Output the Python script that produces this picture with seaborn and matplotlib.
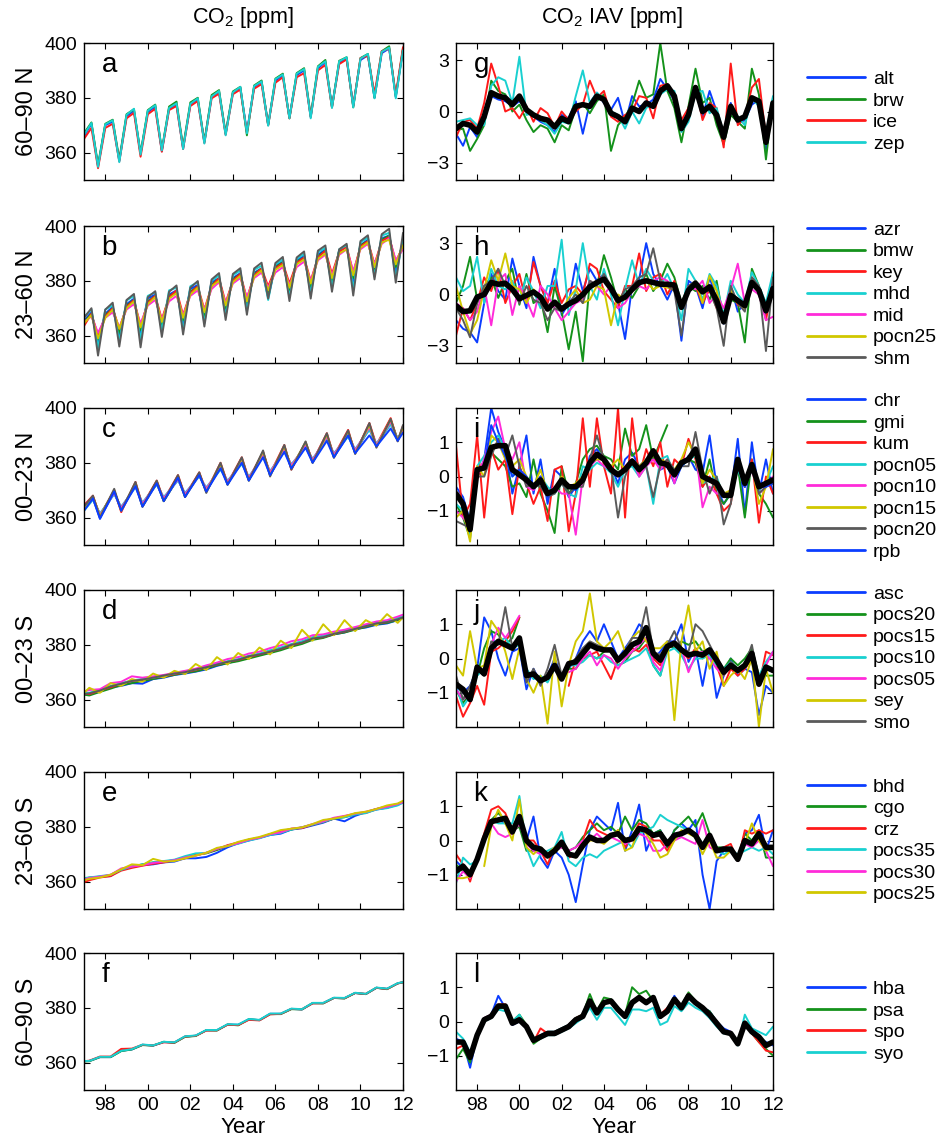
import numpy as np
import pandas as pd
import matplotlib
matplotlib.use('Agg')
import matplotlib.pyplot as plt
from matplotlib.lines import Line2D
import seaborn as sns

# ---------------- time axes ----------------
years = np.arange(1997, 2012)
t_nh = np.append((years[:, None] + np.array([0.0, 0.35, 0.66])).ravel(), 2012.0)   # Jan, max, min (a, b)
t_tr = np.concatenate([[1997.0], (years[:, None] + np.array([0.42, 0.75])).ravel(), [2012.0]])  # c
t_sh = np.concatenate([[1997.0], (years[:, None] + np.array([0.25, 0.75])).ravel(), [2012.0]])  # d, e, f
t_iav = 1997 + np.arange(46) / 3

nan = np.nan

# ---------------- CO2 [ppm] ----------------
# a: 60-90 N
alt_co2 = [366.0, 370.5, 355.0, 370.0, 371.3, 357.0, 373.3, 375.3, 359.5, 374.8, 376.8, 360.5, 376.0, 377.5, 361.5,
           377.5, 379.3, 363.8, 380.3, 382.2, 366.8, 381.8, 383.8, 367.5, 384.0, 385.8, 370.2, 386.3, 388.2, 372.8,
           388.3, 390.0, 373.0, 390.8, 393.0, 376.8, 392.8, 394.3, 377.0, 393.8, 395.5, 380.0, 396.3, 398.0, 380.3, 397.5]
brw_co2 = [367.0, 371.0, 355.5, 370.5, 372.0, 357.5, 374.0, 375.8, 359.8, 375.5, 377.5, 361.0, 376.8, 378.6, 362.0,
           378.3, 380.0, 364.0, 381.0, 382.8, 367.0, 382.3, 384.0, 366.3, 384.5, 386.3, 370.0, 387.0, 388.8, 372.5,
           389.0, 390.8, 373.3, 391.5, 393.8, 376.5, 393.5, 394.8, 376.5, 394.5, 396.0, 380.0, 397.0, 398.8, 380.5, 398.0]
ice_co2 = [365.0, 369.0, 354.3, 369.0, 370.5, 356.8, 372.5, 374.5, 358.5, 374.0, 376.0, 360.3, 375.5, 377.0, 361.3,
           377.0, 378.8, 363.5, 379.8, 381.5, 366.5, 381.3, 383.0, 367.3, 383.3, 385.0, 370.0, 385.5, 387.5, 372.5,
           387.5, 389.0, 373.0, 390.0, 392.0, 376.5, 392.3, 394.0, 377.0, 394.5, 395.3, 381.5, 397.0, 398.0, 381.0, 398.5]
zep_co2 = [366.5, 370.8, 354.8, 370.3, 371.8, 356.5, 373.8, 376.0, 359.3, 375.3, 377.3, 360.8, 376.3, 378.0, 361.3,
           377.8, 379.8, 363.3, 380.5, 382.5, 366.3, 382.0, 384.0, 367.0, 384.3, 386.0, 369.8, 386.8, 388.5, 372.5,
           388.8, 390.5, 372.5, 391.3, 393.3, 376.3, 393.3, 394.8, 376.5, 394.3, 396.0, 379.8, 396.8, 398.3, 379.8, 397.3]

# b: 23-60 N
azr_co2 = [365.5, 368.5, 357.5, 368.0, 370.5, 360.0, 371.5, 373.5, 361.0, 373.5, 375.0, 363.0, 375.0, 376.5, 364.0,
           377.0, 378.5, 366.0, 379.5, 381.0, 369.0, 381.0, 382.8, 370.5, 383.0, 384.5, 374.0, 385.5, 387.0, 375.5,
           387.5, 389.0, 376.5, 389.5, 391.5, 379.0, 391.0, 392.5, 379.5, 393.0, 395.0, 383.0, 395.5, 396.5, 383.0, 394.5]
bmw_co2 = [365.0, 368.0, 358.5, 367.5, 370.0, 361.0, 371.0, 373.0, 362.0, 372.5, 374.5, 364.0, 374.5, 376.0, 365.5,
           376.0, 378.0, 367.0, 378.5, 381.0, 370.0, 380.5, 382.5, 372.0, 382.5, 384.5, 375.5, 385.0, 386.8, 376.5,
           387.0, 388.5, 378.0, 389.0, 391.0, 380.0, 391.0, 392.5, 381.0, 393.0, 394.5, 384.0, 395.0, 396.5, 385.0, 394.0]
key_co2 = [363.5, 368.0, 360.0, 367.0, 370.0, 362.5, 370.5, 373.0, 363.5, 372.0, 374.5, 366.0, 374.0, 376.5, 367.5,
           375.5, 378.0, 369.5, 378.0, 381.0, 372.0, 380.0, 382.5, 373.5, 382.0, 384.5, 378.0, 384.5, 386.5, 379.0,
           386.5, 388.5, 380.0, 388.5, 391.0, 382.5, 390.5, 392.5, 383.0, 392.5, 394.5, 386.0, 394.5, 396.0, 387.0, 392.5]
mhd_co2 = [366.8, 369.5, 355.5, 369.5, 371.0, 358.0, 372.8, 374.5, 358.5, 374.5, 375.8, 361.5, 376.5, 377.5, 362.0,
           378.0, 379.5, 364.5, 380.0, 382.0, 367.0, 382.0, 383.8, 369.0, 384.0, 385.5, 373.0, 386.0, 387.8, 374.0,
           388.0, 389.8, 375.0, 390.5, 392.0, 377.5, 391.5, 393.0, 377.0, 394.0, 395.8, 381.5, 396.5, 397.5, 381.0, 395.5]
mid_co2 = [365.0, 367.0, 361.0, 366.5, 368.5, 363.0, 369.5, 371.5, 364.5, 371.0, 373.0, 366.0, 372.5, 374.5, 367.5,
           374.5, 376.5, 369.5, 377.0, 379.5, 372.0, 379.0, 381.0, 374.0, 381.0, 383.0, 377.5, 383.0, 385.0, 378.5,
           385.0, 387.0, 380.0, 387.5, 389.5, 382.0, 389.5, 391.5, 383.5, 391.5, 393.5, 386.0, 393.5, 395.5, 387.5, 391.5]
pocn25_co2 = [364.5, 367.5, 359.0, 366.5, 369.5, 362.5, 370.0, 372.5, 363.0, 371.5, 374.0, 365.0, 373.5, 375.5, 366.5,
              375.0, 377.5, 368.5, 378.0, 380.0, 371.0, 379.5, 381.8, 372.5, 381.5, 383.8, 376.5, 384.0, 385.8, 377.5,
              386.0, 387.8, 379.0, 388.0, 390.0, 381.0, 390.0, 391.5, 382.0, 392.0, 394.0, 385.0, 394.0, 395.0, 386.0, 393.0]
shm_co2 = [366.5, 370.0, 352.7, 369.5, 372.0, 356.0, 373.0, 375.2, 355.7, 374.0, 376.2, 359.5, 376.0, 378.3, 360.4,
           377.5, 379.9, 363.3, 380.5, 382.8, 365.7, 382.5, 384.6, 367.6, 384.5, 386.6, 373.5, 386.5, 388.7, 372.6,
           388.5, 390.7, 373.5, 391.0, 392.9, 376.0, 391.5, 393.5, 374.6, 394.5, 396.6, 380.5, 397.0, 399.0, 379.3, 397.5]

# c: 00-23 N  (start, max/min per year, end)
chr_co2 = [363.0, 367.0, 359.8, 369.2, 362.8, 372.0, 364.0, 372.5, 366.2, 374.2, 367.8, 375.5, 369.5, 378.5, 372.3,
           380.5, 373.6, 383.0, 375.5, 385.0, 378.0, 386.0, 380.3, 389.0, 382.2, 390.0, 383.8, 392.5, 386.0, 394.5, 388.4, 391.5]
gmi_co2 = [363.5, 367.5, 361.0, 369.5, 363.0, 372.0, 364.5, 373.0, 366.0, 374.5, 368.0, 375.8, 369.8, 379.0, 372.5,
           381.0, 374.0, 383.5, 376.0, 385.5, 378.5, 387.0, 380.5, 390.0, 382.5, 391.0, 384.0, 393.5, 386.0, 395.5, 388.5, 392.5]
kum_co2 = [364.5, 368.0, 360.5, 370.0, 362.0, 373.0, 364.5, 373.5, 366.5, 375.5, 368.0, 376.5, 369.5, 380.0, 372.5,
           382.0, 374.0, 384.0, 376.0, 386.5, 377.5, 387.5, 380.5, 390.8, 382.5, 392.0, 383.5, 394.5, 386.5, 396.3, 388.0, 393.5]
pocn05_co2 = [362.5, 366.5, 361.5, 368.5, 364.0, 371.0, 365.5, 372.0, 367.5, 373.5, 369.0, 375.0, 371.0, 377.5, 373.5,
              379.5, 375.0, 382.0, 377.0, 384.0, 379.5, 385.5, 381.5, 388.5, 383.5, 389.5, 385.0, 392.0, 387.0, 394.0, 389.0, 391.5]
pocn10_co2 = [363.0, 367.0, 361.0, 369.0, 363.5, 371.5, 365.0, 372.5, 367.0, 374.0, 368.5, 375.5, 370.5, 378.5, 373.0,
              380.5, 374.5, 383.0, 376.5, 385.0, 379.0, 386.5, 381.0, 389.5, 383.0, 390.5, 384.5, 393.0, 386.5, 395.0, 388.5, 392.0]
pocn15_co2 = [363.5, 367.5, 360.5, 369.8, 362.5, 372.5, 364.0, 373.0, 366.0, 374.8, 367.5, 376.0, 369.5, 379.5, 372.0,
              381.5, 373.5, 384.0, 375.5, 386.0, 378.0, 387.5, 380.0, 390.3, 382.0, 391.3, 383.5, 393.8, 385.8, 395.8, 388.0, 393.0]
pocn20_co2 = [364.0, 368.0, 360.0, 370.5, 362.5, 373.0, 364.0, 373.5, 366.0, 375.5, 367.5, 376.5, 369.0, 380.0, 372.0,
              382.0, 373.5, 384.5, 375.0, 386.5, 377.5, 387.8, 380.0, 390.8, 381.8, 391.8, 383.2, 394.5, 385.5, 396.0, 387.8, 393.8]
rpb_co2 = [362.5, 367.0, 359.5, 369.5, 362.5, 371.5, 364.0, 372.5, 366.0, 374.5, 367.5, 375.5, 369.5, 378.0, 372.0,
           380.0, 373.5, 382.0, 375.5, 384.0, 378.0, 385.5, 380.0, 388.0, 382.0, 390.0, 383.5, 390.0, 386.0, 392.5, 388.0, 391.0]

# d: 00-23 S
asc_co2 = [362.0, 362.0, 363.0, 364.5, 365.0, 366.0, 365.8, 367.5, 368.0, 369.0, 369.5, 370.2, 371.0, 372.3, 373.3,
           374.3, 375.3, 376.5, 377.3, 378.3, 379.8, 380.8, 382.3, 382.8, 383.8, 384.5, 385.8, 386.3, 387.3, 387.8, 389.0, 390.0]
pocs20_co2 = [361.8, 361.5, 362.8, 364.0, 365.3, 366.0, 366.8, 367.5, 368.3, 369.0, 369.8, 370.3, 371.3, 372.5, 373.3,
              374.0, 375.0, 376.0, 377.0, 378.0, 379.3, 380.3, 381.8, 382.5, 383.8, 384.5, 385.5, 386.5, 387.5, 388.0, 389.0, 389.8]
pocs15_co2 = [362.3, 362.0, 363.3, 364.5, 365.8, 366.8, 367.3, 368.0, 368.5, 369.3, 370.0, 370.8, 371.8, 372.8, 373.8,
              374.5, 375.5, 376.5, 377.5, 378.5, 379.8, 380.8, 382.3, 382.8, 384.0, 384.8, 385.8, 386.8, 387.8, 388.3, 389.5, 390.2]
pocs10_co2 = [362.5, 362.5, 363.5, 365.0, 366.0, 367.0, 367.5, 368.0, 368.8, 369.5, 370.3, 371.0, 372.0, 373.0, 374.0,
              374.8, 376.0, 376.8, 378.0, 379.0, 380.3, 381.3, 382.8, 383.3, 384.3, 385.0, 386.0, 387.0, 388.0, 388.5, 389.8, 390.5]
pocs05_co2 = [363.0, 363.5, 363.8, 366.0, 366.5, 368.5, 368.0, 368.5, 369.0, 369.8, 370.5, 371.3, 372.5, 373.5, 374.8,
              375.5, 376.8, 377.5, 378.8, 379.8, 381.3, 382.0, 383.5, 383.8, 384.8, 385.5, 386.5, 387.5, 388.5, 389.0, 390.3, 391.0]
sey_co2 = [362.5, 364.3, 362.5, 366.0, 365.0, 367.5, 366.5, 369.5, 368.0, 370.5, 369.3, 373.0, 370.8, 375.5, 372.8,
           377.0, 374.8, 379.0, 376.5, 381.5, 378.8, 385.5, 381.5, 387.5, 383.5, 389.0, 385.0, 389.0, 387.0, 391.2, 388.0, 390.0]
smo_co2 = [362.0, 362.3, 363.3, 364.8, 365.8, 366.8, 367.3, 368.0, 368.8, 369.5, 370.0, 371.0, 371.8, 372.8, 373.8,
           374.5, 375.8, 376.5, 377.5, 378.5, 380.0, 380.8, 382.3, 382.8, 384.0, 384.8, 385.8, 386.8, 387.8, 388.3, 389.3, 390.0]

# e: 23-60 S
bhd_co2 = [360.8, 361.0, 361.8, 362.0, 364.5, 365.3, 366.0, 366.3, 367.0, 367.3, 368.5, 368.5, 369.0, 370.5, 372.5,
           374.0, 375.0, 376.0, 377.0, 377.5, 379.0, 379.5, 380.5, 381.5, 383.0, 382.0, 384.0, 385.3, 386.3, 387.0, 388.0, 389.0]
cgo_co2 = [361.0, 361.5, 361.8, 362.3, 364.5, 365.5, 366.3, 367.0, 367.3, 367.8, 368.8, 369.8, 370.3, 371.5, 373.0,
           374.0, 375.3, 376.0, 377.3, 378.0, 379.0, 379.8, 380.8, 381.8, 383.0, 383.5, 384.5, 385.3, 386.5, 387.0, 388.3, 389.0]
crz_co2 = [359.8, 360.5, 361.5, 362.0, 364.0, 365.0, 365.8, 366.5, 367.0, 367.8, 368.5, 369.5, 370.5, 371.8, 373.3,
           374.3, 375.3, 376.0, 377.3, 378.3, 379.3, 379.5, 380.8, 381.8, 383.0, 383.8, 384.8, 385.0, 386.5, 387.5, 388.3, 389.0]
pocs35_co2 = [361.3, 361.5, 362.0, 362.5, 364.3, 365.5, 366.3, 367.0, 367.5, 368.0, 369.3, 370.3, 370.5, 372.0, 373.0,
              373.8, 375.0, 375.8, 377.0, 377.8, 379.0, 379.8, 380.8, 381.8, 383.0, 383.5, 384.5, 385.0, 386.3, 386.8, 387.8, 388.8]
pocs30_co2 = [360.8, 361.3, 361.8, 362.5, 364.8, 365.5, 366.0, 366.8, 367.3, 367.8, 368.8, 369.5, 370.5, 372.0, 373.0,
              374.0, 375.3, 376.0, 377.3, 378.0, 379.3, 379.8, 381.0, 382.0, 383.3, 384.0, 384.8, 385.5, 386.5, 387.3, 388.3, 389.0]
pocs25_co2 = [360.5, 361.0, 361.5, 362.5, 364.5, 366.3, 366.0, 368.3, 367.3, 367.5, 368.5, 369.5, 370.5, 372.3, 373.0,
              374.5, 375.5, 376.3, 377.5, 378.8, 379.3, 379.8, 381.0, 382.5, 383.0, 383.8, 385.0, 385.5, 386.5, 387.8, 388.5, 389.5]

# f: 60-90 S
hba_co2 = [360.5, 360.6, 362.0, 362.0, 364.3, 364.8, 366.5, 366.2, 367.5, 367.3, 369.5, 369.8, 371.8, 371.8, 373.9,
           373.8, 375.8, 375.5, 377.8, 377.8, 379.6, 379.4, 381.7, 381.7, 383.6, 383.5, 385.4, 385.0, 387.3, 386.9, 388.9, 389.3]
psa_co2 = [360.4, 360.5, 362.0, 362.0, 364.2, 364.8, 366.4, 366.2, 367.6, 367.2, 369.4, 369.7, 371.8, 371.7, 373.9,
           373.6, 375.8, 375.5, 377.7, 377.7, 379.5, 379.4, 381.7, 381.6, 383.6, 383.4, 385.4, 385.0, 387.3, 386.8, 388.9, 389.3]
spo_co2 = [360.5, 360.7, 362.2, 362.2, 365.0, 365.1, 366.5, 366.3, 367.4, 367.3, 369.5, 369.8, 371.7, 371.8, 373.8,
           373.7, 375.6, 375.4, 377.6, 377.8, 379.6, 379.5, 381.6, 381.7, 383.6, 383.5, 385.4, 385.1, 387.3, 386.9, 388.9, 389.4]
syo_co2 = [360.6, 360.6, 362.1, 362.1, 364.3, 364.9, 366.6, 366.3, 367.6, 367.4, 369.6, 369.9, 371.9, 371.9, 374.0,
           373.9, 375.9, 375.6, 377.9, 377.9, 379.7, 379.5, 381.8, 381.8, 383.7, 383.6, 385.5, 385.1, 387.4, 387.0, 389.0, 389.4]

# ---------------- CO2 IAV [ppm] ----------------
# g
g_mean = [-1.0, -0.7, -0.8, -1.2, -0.3, 1.1, 0.9, 0.8, 0.4, 0.9, 0.1, -0.2, -0.4, -0.5, -0.9, -0.4, -0.6, 0.3, 0.4, 0.3,
          0.9, 0.7, -0.1, -0.3, -0.6, 0.2, 0.0, 0.5, 0.3, 1.2, 1.5, 0.9, -1.0, -0.2, 1.4, 0.0, 0.3, -0.2, -1.5, 0.3,
          -0.5, -0.3, 0.8, 0.6, -1.8, 0.5]
alt_iav = [-1.3, -2.0, -0.9, -1.5, -0.1, 0.9, 0.7, 0.6, 0.3, 0.6, 0.2, -0.3, -0.6, -0.8, -1.2, -0.2, -0.4, 0.6, -1.3, 0.5,
           1.1, 0.5, 0.1, 0.8, -0.7, 0.9, 0.3, 0.4, 0.7, 1.9, 1.3, 0.6, -0.8, 0.1, 1.2, -0.3, 1.2, 0.0, -1.6, 0.5,
           -0.7, -0.5, 0.4, 0.7, -2.2, 0.6]
brw_iav = [-1.1, -1.0, -2.3, -1.6, -0.8, 1.8, 1.2, 1.0, 0.0, 0.4, -0.5, -1.2, -0.8, -1.0, -1.8, -0.8, -1.1, 0.2, 0.5, -0.1,
           0.6, 1.0, -2.3, -0.8, -0.3, 0.4, 1.8, 0.8, 1.0, 4.0, 1.2, 0.2, -1.8, 0.3, 2.5, 0.5, 0.8, -0.8, -1.9, -0.2,
           -0.6, -1.0, 2.5, 1.0, -2.8, 0.8]
ice_iav = [-1.5, -0.6, -0.5, -1.0, 0.5, 2.8, 1.5, 0.0, 0.2, -0.4, 0.3, -0.6, 0.2, -0.1, -0.9, 0.0, -0.5, 0.0, 0.4, 1.8,
           0.8, 1.2, -0.3, -0.6, -0.2, 0.0, 0.9, 0.8, -0.4, 1.5, 1.6, 0.6, -0.5, 0.2, 1.5, -0.5, 0.5, 0.2, -2.1, 2.8,
           -0.8, -0.3, 1.4, 1.9, -1.5, 0.5]
zep_iav = [-0.6, -0.5, -0.4, -0.8, -0.8, 1.5, 2.0, 1.8, 0.5, 3.2, -0.2, -0.1, -0.5, -0.8, -1.3, -0.6, -0.7, 0.9, 2.4, 0.5,
           1.1, 0.7, 0.0, -0.2, -1.0, 0.0, -0.7, 0.2, 0.5, 1.0, 1.3, 1.2, -1.2, -0.6, 1.1, 1.2, -0.1, 0.2, -1.3, 0.0,
           -0.3, -0.8, 0.8, 0.3, -1.3, 0.9]

# h
h_mean = [-0.65, -1.0, -0.95, -0.15, 0.0, 0.7, 0.6, 0.65, 0.3, -0.25, -0.05, 0.15, -0.15, -0.85, -0.45, -0.85, -0.55,
          -0.35, 0.0, 0.45, 0.7, 0.9, 0.35, -0.35, -0.15, 0.3, 0.7, 0.8, 0.7, 0.6, 0.6, 0.55, -0.75, 0.25, 0.65, 0.15,
          0.45, -0.35, -1.6, -0.05, -0.35, -0.65, 0.7, 0.25, -0.95, 0.35]
azr_iav = [-1.5, -2.0, -2.2, -2.8, -0.5, 1.2, 0.2, -0.3, 2.1, 0.5, -0.8, 2.2, 0.5, -0.5, 1.5, -1.2, -0.5, 1.8, 0.2, 1.5,
           0.8, 1.2, 0.3, -0.5, -2.6, 0.5, 0.9, 3.0, 1.2, 0.5, -0.3, 0.6, -2.7, 0.8, 0.5, -0.8, 1.0, -0.3, -1.7, 0.5,
           -1.0, -0.5, 0.8, 0.3, -1.2, 1.0]
bmw_iav = [-0.5, 0.5, 2.2, -0.3, 0.5, 1.0, -0.2, 0.8, 1.5, -0.6, 1.2, -0.5, -0.2, -2.2, 0.5, -1.0, -3.2, -1.0, -3.9, 0.8,
           0.5, 2.3, 1.0, -0.5, 0.3, -0.2, 0.5, 1.2, 0.2, 0.8, 1.8, 1.0, -0.5, 0.5, 0.2, 0.5, -0.3, 0.8, -1.5, -0.3,
           -0.5, -2.8, 1.5, 0.5, -0.8, 0.5]
key_iav = [-2.4, -0.8, -1.5, -0.5, 1.0, 0.2, 1.5, -0.5, 0.5, 1.2, -0.5, 1.9, 0.5, -0.5, 0.8, -0.5, 0.3, 0.5, 0.0, 1.8,
           1.5, 0.2, -0.3, -0.8, 0.5, 0.5, 2.4, 0.2, 1.0, 1.2, 0.0, 0.8, -0.8, 0.2, 0.5, -0.5, 0.3, -0.8, -1.5, 0.3,
           -0.6, -0.8, 1.0, 0.5, -1.5, 0.8]
mhd_iav = [1.0, 0.2, 0.5, 2.2, -0.5, 1.5, 0.5, 0.3, 0.8, -0.3, 1.0, 0.2, -0.8, 0.5, 0.5, 3.2, -1.2, 0.3, 3.0, 0.5,
           -0.3, 1.5, 0.0, -1.8, 0.3, 2.0, 0.5, 1.5, 0.8, 0.5, 1.2, 0.3, -1.5, 1.5, 0.8, -0.3, 1.2, 0.5, -1.2, 0.8,
           0.0, -0.5, 1.3, 0.5, -0.5, 1.3]
mid_iav = [-0.5, -0.8, -1.5, -1.0, 0.5, -1.8, 0.8, 1.2, -1.2, 0.5, -0.3, -1.3, 0.5, 0.0, -0.8, -1.5, -1.0, -0.5, -0.3, 0.8,
           0.5, 0.0, 0.5, -0.8, -0.5, 0.2, 0.5, 0.3, 0.8, 1.0, 0.8, 0.3, -0.8, 0.5, 0.3, 0.8, -0.5, 0.0, -0.8, 0.3,
           1.8, -0.5, 0.3, 0.0, -1.5, -1.3]
pocn25_iav = [0.5, -1.0, -2.3, -1.5, 0.3, 2.0, 0.8, 2.4, 0.5, 0.3, -0.5, 0.3, -0.2, -0.8, -0.5, -1.0, -0.2, 0.3, -0.5, -0.3,
              0.5, 0.3, -1.8, 0.0, -0.3, 0.2, 0.6, 0.8, 0.3, 0.5, 0.4, 0.3, -0.5, 0.2, 0.8, -0.5, 1.1, 0.2, -1.5, 0.3,
              -0.5, -0.8, 0.5, 0.3, -0.8, 0.5]
shm_iav = [-0.8, -1.5, -2.5, -0.5, 0.5, 0.8, 1.5, 0.5, 0.3, -0.5, 0.5, -0.3, -0.5, -1.5, -0.8, -1.0, -0.5, 0.0, -0.5, 0.8,
           0.5, 1.2, 0.5, -0.5, 0.3, 0.5, 1.0, 1.2, 2.7, 0.8, 0.5, 0.2, -2.4, 0.5, 0.8, 0.3, 0.2, -0.8, -3.0, 0.5,
           -0.5, -1.0, 1.0, 0.5, -3.3, 1.0]

# i
i_mean = [-0.5, -0.8, -1.55, 0.2, 0.25, 0.85, 0.9, 0.9, 0.2, 0.05, -0.1, -0.3, -0.1, -0.5, -0.4, -0.1, -0.3, -0.3, -0.1,
          0.4, 0.65, 0.5, 0.2, 0.05, 0.2, 0.45, 0.2, 0.4, 0.75, 0.4, 0.35, 0.05, 0.4, 0.5, 0.8, 0.0, -0.1, -0.2, -0.55,
          -0.55, 0.5, -0.2, 0.35, -0.3, -0.2, -0.1]
chr_iav = [-0.3, -0.6, -1.3, 0.0, 0.5, 2.0, 1.3, 0.8, -0.5, 0.3, 1.2, -0.5, 0.5, -0.8, 0.2, 0.0, -0.6, -0.3, -0.2, 0.6,
           0.8, 0.5, 0.3, -0.2, 0.5, 0.7, 0.3, 0.5, 0.6, 0.2, 0.3, -0.2, 0.3, 0.6, 0.2, 0.1, 1.2, -0.3, -0.8, -0.5,
           1.1, -1.1, 1.0, -0.5, 0.5, -0.5]
gmi_iav = [-0.8, -1.2, -1.8, 0.0, 0.3, 0.7, 0.5, 0.3, -0.3, -0.2, -0.6, 0.5, -0.5, -1.0, -1.65, 0.3, -0.5, -0.2, 0.5, 0.8,
           0.9, 0.6, 0.5, 0.2, 1.4, 0.6, 0.8, 1.5, 0.5, 1.0, 1.5, nan, 0.3, 0.5, 0.4, -0.3, 0.5, -0.5, -0.8, -0.5,
           0.3, -1.2, 0.5, -0.5, -0.8, -1.2]
kum_iav = [0.9, -1.2, -0.8, 1.2, -1.2, 0.8, 0.2, 0.5, -1.1, 0.3, -0.2, -0.8, -0.3, -1.3, 0.2, 0.3, -1.6, -0.5, 1.7, -0.3,
           1.7, 0.3, -0.5, 2.0, -1.2, 1.7, 0.0, 0.8, 0.3, 1.0, -0.3, 0.5, 0.3, 1.1, 0.5, -0.3, 0.0, -0.5, -1.0, -0.8,
           0.5, -0.3, 0.5, -1.35, 0.0, -0.5]
pocn05_iav = [-0.8, -1.0, -1.7, 0.3, 0.6, 1.0, 1.2, 0.8, 0.0, 0.2, -0.2, -0.3, 0.0, -0.3, -0.5, -0.2, -0.5, -0.6, 0.3, 0.2,
              0.4, 0.3, 0.1, -0.3, 0.2, 0.3, 0.0, 0.3, -0.8, 0.5, 0.6, 0.0, 0.3, 0.5, 0.6, -0.2, -0.1, 0.0, -0.6, -0.5,
              0.2, -0.3, 0.2, -0.4, -0.2, 0.3]
pocn10_iav = [-1.0, -1.2, -1.5, 0.0, 0.5, 1.3, 1.75, 0.8, 0.5, 1.0, -0.3, -0.4, 0.0, -0.5, -0.3, -0.5, -0.5, -1.7, 0.0, 0.3,
              0.5, 0.3, 0.2, 0.0, 0.3, 0.5, 0.0, 0.3, 0.5, 0.2, 0.5, -0.2, 0.5, 0.5, 0.8, -0.9, -0.3, -0.5, -0.5, -0.6,
              0.3, -0.3, 0.2, -0.5, -0.3, 0.0]
pocn15_iav = [-1.2, -1.0, -1.9, 0.3, 0.0, 1.2, 1.0, 0.5, 0.3, 0.5, 0.0, -0.3, 0.2, -0.5, -0.4, 0.0, -0.3, -0.2, 0.0, 0.4,
              0.5, 0.5, 0.3, 0.5, 0.2, 0.5, 0.3, 0.5, 0.6, 0.5, 0.4, 0.2, 0.5, 1.0, 0.6, -0.2, 0.2, -0.1, -0.5, -0.4,
              0.4, -0.2, 0.4, -0.8, -0.3, 0.8]
pocn20_iav = [-1.3, -1.4, -1.5, 0.0, 0.0, 0.6, 1.1, 0.6, 1.2, 0.3, -0.3, -0.2, -0.3, -0.6, -0.5, -0.2, -0.5, -0.3, -0.3, 0.5,
              1.2, 0.5, 0.3, -1.2, 0.0, 0.5, 0.2, 0.3, -0.6, 0.3, 0.5, 0.2, 0.3, 0.3, 1.3, 0.2, -0.5, 0.0, -1.4, -0.8,
              0.5, -0.3, 0.3, -0.5, -0.3, -0.2]
rpb_iav = [-0.5, -0.8, -1.6, 0.2, 0.3, 1.5, 1.0, 0.6, 0.0, 0.2, 0.0, -0.3, 0.0, -0.6, -0.4, -0.1, -0.3, -0.4, -0.1, 0.3,
           0.6, 0.5, 0.2, 0.1, 0.2, 0.4, 0.2, 0.4, 0.7, 0.4, 0.3, 0.0, 0.3, 0.5, 0.7, 0.0, -0.1, -0.2, -0.5, -0.6,
           0.4, -0.3, 0.3, -0.3, -0.3, -0.2]

# j
j_mean = [-0.75, -0.9, -1.2, -0.25, -0.45, 0.3, 0.5, 0.4, 0.3, 0.6, -0.5, -0.45, -0.65, -0.55, -0.2, -0.6, -0.15, -0.1,
          0.15, 0.4, 0.3, 0.25, 0.25, -0.05, 0.15, 0.4, 0.5, 0.9, 0.15, -0.05, 0.35, 0.45, 0.25, 0.1, 0.15, 0.1, 0.25,
          -0.05, -0.4, -0.2, -0.35, -0.2, 0.15, -0.75, -0.25, -0.35]
asc_iav = [-0.8, -1.0, -0.8, -0.3, 1.2, 0.8, 0.0, -0.5, 0.2, 0.3, -0.9, -0.3, -0.7, -0.5, 0.0, -0.5, -0.3, 0.0, 0.5, 0.8,
           0.5, 1.0, 0.5, 0.0, 0.3, 0.6, 1.0, 0.8, 0.0, 0.2, 0.5, 0.5, 1.0, -0.1, 0.3, -0.8, 0.3, -1.15, -0.5, 0.0,
           -0.5, -0.3, -0.4, -1.65, -0.8, -1.0]
pocs20_iav = [-0.9, -1.3, -1.0, -0.5, 0.3, 0.8, 0.7, 0.4, 0.6, 1.2, nan, nan, nan, nan, nan, nan, -0.3, -0.3, 0.0, 0.1,
              0.0, 0.2, 0.3, -0.2, -0.1, 0.2, 0.3, 0.6, -0.2, -0.5, 0.4, 0.3, 0.5, 0.4, 0.5, 0.2, 0.3, 0.0, -0.3, 0.0,
              -0.2, 0.0, 0.3, -0.5, -0.5, -0.5]
pocs15_iav = [-1.1, -1.7, -1.3, -0.8, -1.35, 0.2, 0.3, 0.5, 0.8, 1.2, nan, nan, nan, nan, nan, nan, -0.8, 0.0, 0.0, 0.1,
              0.2, -0.2, -0.6, 0.0, 0.1, 0.3, 0.2, 0.4, 0.0, -0.2, 0.3, 0.4, 0.2, 0.0, 0.3, 0.0, 0.2, -0.2, -0.8, -0.3,
              -0.5, -0.3, 0.0, -0.8, 0.2, 0.1]
pocs10_iav = [-0.8, -1.4, -1.1, -0.5, -0.3, 0.3, 0.5, 0.6, 0.3, 0.4, -0.3, -0.6, -0.5, -0.7, -0.3, -0.5, -0.2, -0.2, -0.1, 0.1,
              0.0, 0.1, -0.1, -0.2, -0.1, 0.0, 0.1, 0.3, -0.2, -0.5, 0.2, 0.3, 0.1, -0.3, 0.0, 0.0, 0.1, -0.2, -0.3, -0.1,
              -0.3, -0.2, 0.0, -0.5, -0.1, 0.2]
pocs05_iav = [-0.9, -1.2, -1.0, -0.4, -0.3, 0.4, 0.9, 0.6, 0.9, 1.25, nan, nan, nan, nan, nan, nan, -0.4, -0.3, 0.0, 0.2,
              -0.2, 0.1, 0.0, -0.3, 0.0, 0.2, 0.4, 0.6, -0.1, -0.35, 0.3, 0.5, 0.3, -0.4, 0.1, 0.2, 0.0, -0.3, -0.5, -0.2,
              -0.4, -0.2, 0.0, -0.6, -0.2, 0.2]
sey_iav = [-0.2, -0.5, 0.8, -0.3, -0.2, 1.1, 0.8, 0.2, -0.6, 0.3, -0.6, -1.0, -0.5, -1.9, 0.2, -1.4, -0.2, 0.5, 0.8, 1.9,
           0.5, 0.3, 0.5, 0.8, 0.2, 0.6, 0.8, 0.5, 0.3, 0.3, 0.5, -1.8, 0.5, 1.55, 0.2, 0.5, -0.3, 0.2, -0.8, -0.5,
           -0.3, -0.6, 0.0, -2.0, -0.3, -1.0]
smo_iav = [-0.5, -1.2, -0.8, -0.3, -0.5, 0.5, 0.4, 1.5, 0.3, 0.5, -0.7, -0.3, -0.8, -0.3, 0.4, -0.5, -0.2, 0.0, 0.3, 0.5,
           0.4, 0.3, 0.2, 0.0, 0.2, 0.6, 0.6, 1.5, 0.2, 0.1, 0.4, 0.8, 0.3, 0.2, 1.0, 0.8, 0.4, 0.0, -0.5, -0.1,
           -0.3, -0.2, 0.4, -0.7, -0.2, -0.4]

# k
k_mean = [-0.9, -0.75, -1.0, -0.55, 0.05, 0.55, 0.6, 0.65, 0.25, 0.7, 0.0, -0.2, -0.25, -0.45, -0.3, -0.05, -0.4, -0.45,
          -0.15, 0.1, 0.0, 0.0, 0.15, 0.2, 0.0, 0.05, 0.35, 0.3, 0.15, 0.2, -0.1, 0.15, 0.2, 0.3, 0.15, -0.2, 0.15, -0.3,
          -0.25, -0.25, -0.55, 0.0, -0.1, 0.2, -0.2, -0.2]
bhd_iav = [-0.6, -0.8, -1.1, -0.5, 0.0, 0.5, 0.6, 0.5, 0.3, 0.5, 0.0, 0.7, -0.5, -0.8, -0.3, -0.5, -1.0, -1.8, -0.7, 0.3,
           0.7, 0.5, 0.3, 1.1, -0.3, 0.3, 1.05, -0.3, 0.2, 0.3, -0.2, 0.3, 0.5, 0.3, 0.6, -1.0, -2.0, -0.6, -0.3, -0.3,
           -0.6, 0.2, 0.3, 0.75, -0.3, 0.3]
cgo_iav = [-0.7, -0.9, -1.0, -0.5, 0.1, 0.6, 0.8, 0.6, 0.3, 0.4, -0.3, -0.3, -0.3, -0.5, -0.3, -0.2, -0.3, -0.2, 0.1, 0.3,
           0.5, 0.3, 0.4, 0.2, 0.7, 0.3, 0.6, 0.5, 0.2, 0.3, -0.2, 0.3, 0.5, 0.7, 0.4, 0.8, 0.2, -0.2, -0.2, -0.3,
           -0.5, 0.2, 0.0, 0.3, -0.5, -0.5]
crz_iav = [-0.4, -0.7, -1.2, -0.5, 0.2, 0.9, 1.0, 0.8, 0.3, 0.5, 0.0, 0.0, -0.3, -0.7, -0.2, -0.1, -0.5, -0.4, 0.0, 0.6,
           0.3, 0.2, 0.1, 0.3, -0.2, 0.1, 0.5, 0.4, 0.0, 0.0, -0.3, 0.1, 0.2, 0.3, 0.1, -0.2, 0.0, -0.3, -0.2, -0.1,
           -0.6, 0.3, 0.2, 0.3, 0.2, 0.3]
pocs35_iav = [-1.25, -0.5, -0.7, -0.6, 0.0, 0.6, 0.5, 0.5, 0.5, 1.3, -0.2, -0.75, -0.4, -0.3, -0.2, 0.25, -0.6, -0.75, -0.5,
              -0.4, -0.5, -0.3, -0.2, -0.1, 0.0, -0.2, 0.2, 0.3, 0.4, 0.75, 0.6, 0.5, 0.4, 0.3, 0.2, -0.1, 0.0, -0.3,
              -0.4, -0.3, -0.4, -0.3, -0.2, -0.3, -0.2, -0.4]
pocs30_iav = [-1.2, -0.9, -1.1, -0.5, 0.0, 0.5, 0.2, 0.1, 0.2, 0.5, -0.1, -0.3, -0.4, -0.4, -0.3, -0.2, -0.3, -0.2, 0.0, 0.0,
              0.2, 0.0, 0.1, 0.0, -0.1, 0.0, 0.2, 0.1, -0.3, -0.3, -0.1, 0.0, 0.1, 0.0, -0.1, 0.6, -0.2, -0.3, -0.2, -0.3,
              -0.5, -0.1, -0.2, 0.0, -0.3, -0.75]
pocs25_iav = [-1.1, -1.1, -1.05, nan, -0.75, 0.4, 0.9, 0.5, 0.0, 1.2, -0.2, -0.4, -0.2, -0.4, -0.2, -0.1, -0.4, -0.5, -0.2,
              0.0, 0.0, -0.1, 0.1, 0.3, -0.3, -0.2, 0.4, 0.2, -0.1, -0.5, -0.4, 0.0, 0.3, 0.2, 0.1, -0.4, 0.0, -0.5,
              -0.5, -0.3, -0.5, -0.1, 0.5, 0.0, -0.3, -0.2]

# l
l_mean = [-0.6, -0.6, -1.05, -0.4, 0.05, 0.15, 0.45, 0.45, -0.05, 0.05, -0.15, -0.55, -0.45, -0.35, -0.35, -0.25, -0.15,
          0.05, 0.15, 0.6, 0.25, 0.55, 0.6, 0.35, 0.15, 0.55, 0.7, 0.55, 0.7, 0.15, 0.3, 0.65, 0.4, 0.75, 0.55, 0.4,
          0.2, -0.05, -0.3, -0.35, -0.65, -0.05, -0.3, -0.45, -0.7, -0.6]
hba_iav = [-0.5, -0.6, -1.35, -0.4, 0.1, 0.2, 0.75, 0.4, -0.1, 0.0, -0.2, -0.6, -0.4, -0.3, -0.3, -0.2, -0.1, 0.1, 0.1, 0.6,
           0.3, 0.6, 0.6, 0.3, 0.1, 0.6, 0.7, 0.6, 0.7, 0.1, 0.3, 0.75, 0.4, 0.7, 0.5, 0.4, 0.3, 0.0, -0.2, -0.3,
           -0.6, -0.1, -0.3, -0.5, -0.6, -0.7]
psa_iav = [-1.1, -0.8, -1.2, -0.4, 0.0, 0.2, 0.4, 0.4, 0.0, 0.2, -0.1, -0.65, -0.5, -0.3, -0.3, -0.2, -0.1, 0.1, 0.2, 0.8,
           0.3, 0.7, 0.65, 0.4, 0.2, 1.0, 0.8, 0.9, 0.6, 0.2, 0.35, 0.7, 0.45, 0.85, 0.6, 0.4, 0.3, 0.0, -0.3, -0.4,
           -0.6, 0.0, -0.35, -0.6, -0.8, -1.0]
spo_iav = [-0.8, -0.7, -1.1, -0.4, 0.1, 0.2, 0.5, 0.5, 0.0, 0.1, -0.1, -0.6, -0.2, -0.35, -0.3, -0.25, -0.1, 0.1, 0.2, 0.6,
           0.3, 0.55, 0.6, 0.35, 0.2, 0.55, 0.75, 0.6, 0.7, 0.2, 0.4, 0.65, 0.45, 0.8, 0.55, 0.45, 0.2, 0.0, -0.3, -0.3,
           -0.65, -0.05, -0.35, -0.6, -0.85, -0.9]
syo_iav = [-0.3, -0.5, -0.9, -0.4, 0.0, 0.1, 0.35, 0.3, 0.0, 0.2, -0.2, -0.5, -0.5, -0.4, -0.4, -0.3, -0.2, -0.05, 0.1, 0.4,
           0.05, 0.4, 0.4, 0.15, -0.1, 0.35, 0.35, 0.3, 0.4, -0.1, 0.0, 0.45, 0.3, 0.55, 0.4, 0.3, 0.1, -0.15, -0.35,
           -0.35, -0.7, 0.2, -0.2, -0.3, -0.4, -0.15]

# ---------------- colours / layout ----------------
C = {'b': '#0b3dff', 'g': '#14921b', 'r': '#ff1a1a', 'c': '#19d0d0',
     'm': '#ff2bd9', 'y': '#d0c700', 'k': '#5a5a5a'}

rows = [
    ('a', 'g', '60\u201390 N', t_nh,
     [('alt', 'b', alt_co2, alt_iav), ('brw', 'g', brw_co2, brw_iav), ('ice', 'r', ice_co2, ice_iav),
      ('zep', 'c', zep_co2, zep_iav)], g_mean, 4),
    ('b', 'h', '23\u201360 N', t_nh,
     [('azr', 'b', azr_co2, azr_iav), ('bmw', 'g', bmw_co2, bmw_iav), ('key', 'r', key_co2, key_iav),
      ('mhd', 'c', mhd_co2, mhd_iav), ('mid', 'm', mid_co2, mid_iav), ('pocn25', 'y', pocn25_co2, pocn25_iav),
      ('shm', 'k', shm_co2, shm_iav)], h_mean, 4),
    ('c', 'i', '00\u201323 N', t_tr,
     [('chr', 'b', chr_co2, chr_iav), ('gmi', 'g', gmi_co2, gmi_iav), ('kum', 'r', kum_co2, kum_iav),
      ('pocn05', 'c', pocn05_co2, pocn05_iav), ('pocn10', 'm', pocn10_co2, pocn10_iav),
      ('pocn15', 'y', pocn15_co2, pocn15_iav), ('pocn20', 'k', pocn20_co2, pocn20_iav),
      ('rpb', 'b', rpb_co2, rpb_iav)], i_mean, 2),
    ('d', 'j', '00\u201323 S', t_sh,
     [('asc', 'b', asc_co2, asc_iav), ('pocs20', 'g', pocs20_co2, pocs20_iav), ('pocs15', 'r', pocs15_co2, pocs15_iav),
      ('pocs10', 'c', pocs10_co2, pocs10_iav), ('pocs05', 'm', pocs05_co2, pocs05_iav), ('sey', 'y', sey_co2, sey_iav),
      ('smo', 'k', smo_co2, smo_iav)], j_mean, 2),
    ('e', 'k', '23\u201360 S', t_sh,
     [('bhd', 'b', bhd_co2, bhd_iav), ('cgo', 'g', cgo_co2, cgo_iav), ('crz', 'r', crz_co2, crz_iav),
      ('pocs35', 'c', pocs35_co2, pocs35_iav), ('pocs30', 'm', pocs30_co2, pocs30_iav),
      ('pocs25', 'y', pocs25_co2, pocs25_iav)], k_mean, 2),
    ('f', 'l', '60\u201390 S', t_sh,
     [('hba', 'b', hba_co2, hba_iav), ('psa', 'g', psa_co2, psa_iav), ('spo', 'r', spo_co2, spo_iav),
      ('syo', 'c', syo_co2, syo_iav)], l_mean, 2),
]


def long_frame(t, stations, col):
    parts = []
    for st in stations:
        v = np.asarray(st[col], dtype=float)
        piece = [f'{st[0]}_{n}' for n in np.cumsum(np.isnan(v))]
        parts.append(pd.DataFrame({'year': t, 'val': v, 'station': st[0], 'piece': piece}))
    return pd.concat(parts, ignore_index=True).dropna(subset=['val'])


sns.set_theme(style='ticks')
plt.rcParams['font.family'] = ['Liberation Sans', 'DejaVu Sans']
plt.rcParams['mathtext.fontset'] = 'custom'
plt.rcParams['mathtext.rm'] = 'Liberation Sans'
plt.rcParams['mathtext.it'] = 'Liberation Sans:italic'
plt.rcParams['axes.linewidth'] = 1.0
plt.rcParams['text.color'] = 'black'
plt.rcParams['axes.labelcolor'] = 'black'

W, H = 946, 1141
fig = plt.figure(figsize=(W / 100, H / 100), dpi=100)
tops = [43, 226, 408, 590, 772, 953]
ph = 137
xticks = list(range(1998, 2013, 2))
xlabels = ['98', '00', '02', '04', '06', '08', '10', '12']

for r, (la, lb, region, t_co2, stations, mean, ylim) in enumerate(rows):
    y0 = 1 - (tops[r] + ph) / H
    axL = fig.add_axes([84 / W, y0, 319 / W, ph / H])
    axR = fig.add_axes([456 / W, y0, 317 / W, ph / H])
    names = [s[0] for s in stations]
    pal = {s[0]: C[s[1]] for s in stations}

    dL = long_frame(t_co2, stations, 2)
    sns.lineplot(data=dL, x='year', y='val', hue='station', hue_order=names, palette=pal,
                 units='piece', estimator=None, linewidth=1.4, legend=False, ax=axL)
    dR = long_frame(t_iav, stations, 3)
    sns.lineplot(data=dR, x='year', y='val', hue='station', hue_order=names, palette=pal,
                 units='piece', estimator=None, linewidth=1.4, legend=False, ax=axR)
    sns.lineplot(x=t_iav, y=mean, color='black', linewidth=4, ax=axR)

    axL.set_ylim(350, 400)
    axL.set_yticks([360, 380, 400])
    axR.set_ylim(-ylim, ylim)
    axR.set_yticks([-3, 0, 3] if ylim == 4 else [-1, 0, 1])
    for ax, letter in ((axL, la), (axR, lb)):
        ax.set_xlim(1997, 2012)
        ax.set_xticks(xticks)
        ax.set_xlabel('')
        ax.set_ylabel('')
        ax.tick_params(direction='in', top=True, right=True, length=4, width=0.8,
                       labelsize=14, colors='black', pad=5)
        for sp in ax.spines.values():
            sp.set_color('black')
        ax.text(0.055, 0.84, letter, transform=ax.transAxes, fontsize=20, ha='left', va='center')
        if r == len(rows) - 1:
            ax.set_xticklabels(xlabels)
            ax.set_xlabel('Year', fontsize=16, labelpad=2)
        else:
            ax.set_xticklabels([])

    fig.text(27 / W, 1 - (tops[r] + ph / 2) / H, region, rotation=90, fontsize=17,
             ha='center', va='center')

    handles = [Line2D([], [], color=pal[n], linewidth=2) for n in names]
    axR.legend(handles, names, loc='center left', bbox_to_anchor=(1 + 34 / 317, 0.5),
               frameon=False, fontsize=14, handlelength=3.0, handletextpad=0.4,
               labelspacing=0.2, borderpad=0, borderaxespad=0)

fig.text(243 / W, 1 - 17 / H, 'CO$_2$ [ppm]', fontsize=15.5, ha='center', va='center')
fig.text(612 / W, 1 - 17 / H, 'CO$_2$ IAV [ppm]', fontsize=15.5, ha='center', va='center')

fig.savefig('out.png', dpi=100)
